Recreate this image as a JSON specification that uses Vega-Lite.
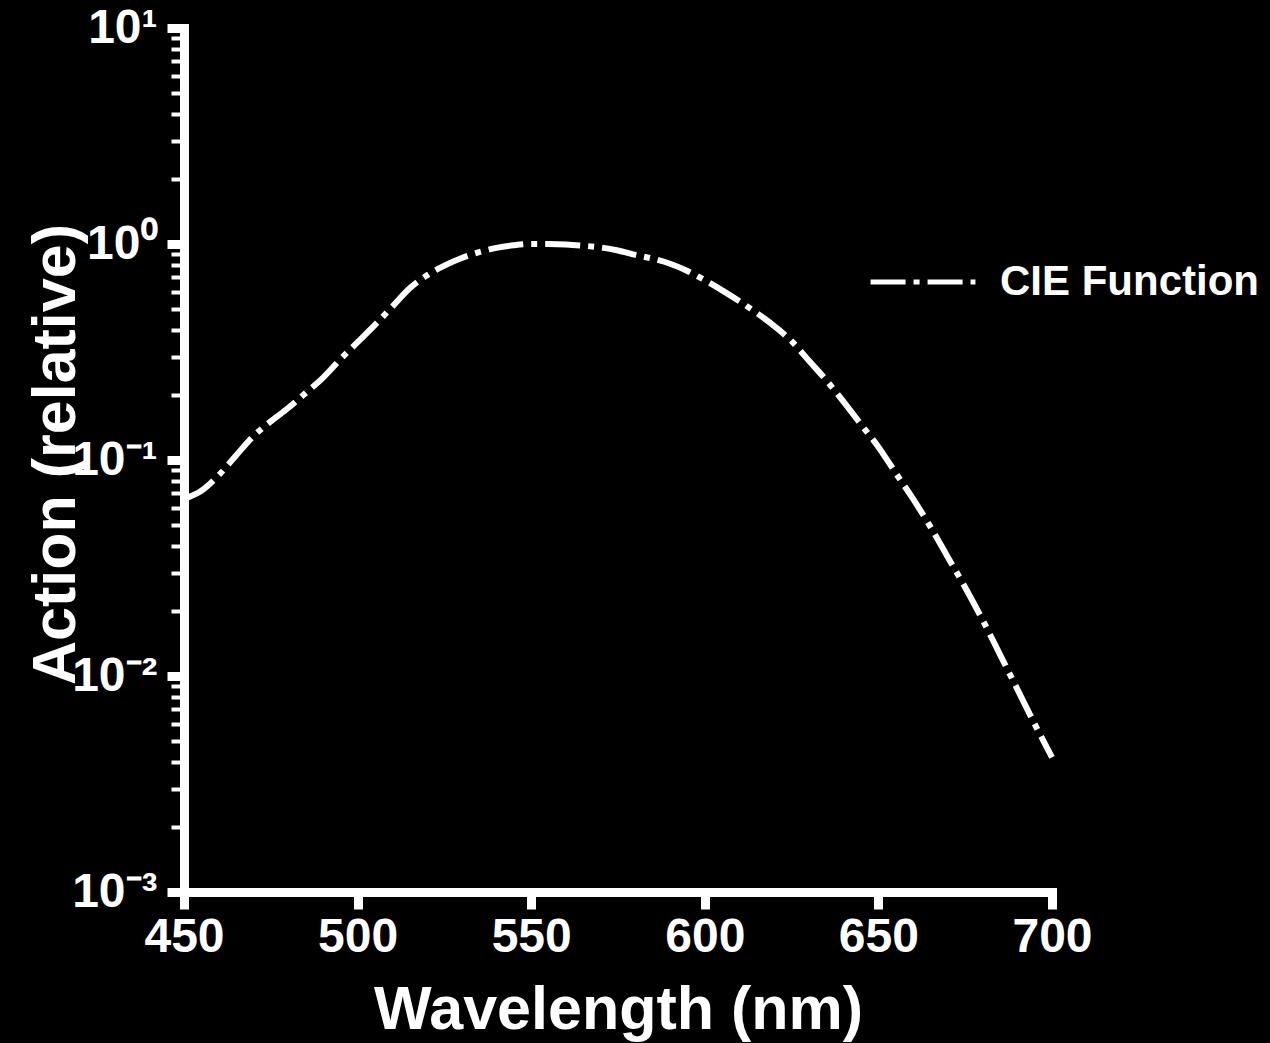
{
  "$schema": "https://vega.github.io/schema/vega-lite/v6.json",
  "autosize": "none",
  "width": 868,
  "height": 864,
  "padding": {"left": 184, "top": 28, "right": 218, "bottom": 151},
  "background": "black",
  "config": {
    "view": {"stroke": null},
    "font": "Liberation Sans",
    "axis": {
      "domainColor": "white",
      "domainWidth": 9,
      "domainCap": "square",
      "tickColor": "white",
      "labelColor": "white",
      "titleColor": "white",
      "labelFont": "Liberation Sans",
      "titleFont": "Liberation Sans",
      "labelFontWeight": "bold",
      "titleFontWeight": "bold",
      "grid": false
    }
  },
  "data": {
    "values": [
      {"wavelength": 450, "action": 0.066, "series": "CIE Function"},
      {"wavelength": 455, "action": 0.072, "series": "CIE Function"},
      {"wavelength": 460, "action": 0.085, "series": "CIE Function"},
      {"wavelength": 465, "action": 0.105, "series": "CIE Function"},
      {"wavelength": 470, "action": 0.129, "series": "CIE Function"},
      {"wavelength": 475, "action": 0.151, "series": "CIE Function"},
      {"wavelength": 480, "action": 0.174, "series": "CIE Function"},
      {"wavelength": 485, "action": 0.204, "series": "CIE Function"},
      {"wavelength": 490, "action": 0.24, "series": "CIE Function"},
      {"wavelength": 495, "action": 0.292, "series": "CIE Function"},
      {"wavelength": 500, "action": 0.351, "series": "CIE Function"},
      {"wavelength": 505, "action": 0.422, "series": "CIE Function"},
      {"wavelength": 510, "action": 0.513, "series": "CIE Function"},
      {"wavelength": 515, "action": 0.624, "series": "CIE Function"},
      {"wavelength": 520, "action": 0.716, "series": "CIE Function"},
      {"wavelength": 525, "action": 0.794, "series": "CIE Function"},
      {"wavelength": 530, "action": 0.861, "series": "CIE Function"},
      {"wavelength": 535, "action": 0.916, "series": "CIE Function"},
      {"wavelength": 540, "action": 0.959, "series": "CIE Function"},
      {"wavelength": 545, "action": 0.986, "series": "CIE Function"},
      {"wavelength": 550, "action": 1.0, "series": "CIE Function"},
      {"wavelength": 555, "action": 1.0, "series": "CIE Function"},
      {"wavelength": 560, "action": 0.995, "series": "CIE Function"},
      {"wavelength": 565, "action": 0.982, "series": "CIE Function"},
      {"wavelength": 570, "action": 0.964, "series": "CIE Function"},
      {"wavelength": 575, "action": 0.933, "series": "CIE Function"},
      {"wavelength": 580, "action": 0.89, "series": "CIE Function"},
      {"wavelength": 585, "action": 0.855, "series": "CIE Function"},
      {"wavelength": 590, "action": 0.81, "series": "CIE Function"},
      {"wavelength": 595, "action": 0.75, "series": "CIE Function"},
      {"wavelength": 600, "action": 0.68, "series": "CIE Function"},
      {"wavelength": 605, "action": 0.61, "series": "CIE Function"},
      {"wavelength": 610, "action": 0.543, "series": "CIE Function"},
      {"wavelength": 615, "action": 0.479, "series": "CIE Function"},
      {"wavelength": 620, "action": 0.417, "series": "CIE Function"},
      {"wavelength": 625, "action": 0.355, "series": "CIE Function"},
      {"wavelength": 630, "action": 0.288, "series": "CIE Function"},
      {"wavelength": 635, "action": 0.234, "series": "CIE Function"},
      {"wavelength": 640, "action": 0.186, "series": "CIE Function"},
      {"wavelength": 645, "action": 0.146, "series": "CIE Function"},
      {"wavelength": 650, "action": 0.115, "series": "CIE Function"},
      {"wavelength": 655, "action": 0.087, "series": "CIE Function"},
      {"wavelength": 660, "action": 0.066, "series": "CIE Function"},
      {"wavelength": 665, "action": 0.049, "series": "CIE Function"},
      {"wavelength": 670, "action": 0.0355, "series": "CIE Function"},
      {"wavelength": 675, "action": 0.0257, "series": "CIE Function"},
      {"wavelength": 680, "action": 0.0182, "series": "CIE Function"},
      {"wavelength": 685, "action": 0.0126, "series": "CIE Function"},
      {"wavelength": 690, "action": 0.0087, "series": "CIE Function"},
      {"wavelength": 695, "action": 0.006, "series": "CIE Function"},
      {"wavelength": 700, "action": 0.0042, "series": "CIE Function"}
    ]
  },
  "mark": {"type": "line", "color": "white", "strokeWidth": 6, "interpolate": "monotone", "strokeCap": "butt"},
  "encoding": {
    "x": {
      "field": "wavelength",
      "type": "quantitative",
      "scale": {"domain": [450, 700], "nice": false, "zero": false},
      "axis": {
        "title": "Wavelength (nm)",
        "values": [450, 500, 550, 600, 650, 700],
        "tickSize": 17,
        "tickWidth": 9,
        "labelFontSize": 48,
        "labelPadding": 4,
        "labelFlush": false,
        "titleFontSize": 61,
        "titleBaseline": "alphabetic",
        "titleY": 136
      }
    },
    "y": {
      "field": "action",
      "type": "quantitative",
      "scale": {"type": "log", "domain": [0.001, 10], "nice": false},
      "axis": {
        "title": "Action (relative)",
        "values": [0.001, 0.002, 0.003, 0.004, 0.005, 0.006, 0.007, 0.008, 0.009,
                   0.01, 0.02, 0.03, 0.04, 0.05, 0.06, 0.07, 0.08, 0.09,
                   0.1, 0.2, 0.3, 0.4, 0.5, 0.6, 0.7, 0.8, 0.9,
                   1, 2, 3, 4, 5, 6, 7, 8, 9, 10],
        "labelExpr": "datum.value == 10 ? '10¹' : datum.value == 1 ? '10⁰' : datum.value == 0.1 ? '10⁻¹' : datum.value == 0.01 ? '10⁻²' : datum.value == 0.001 ? '10⁻³' : ''",
        "tickSize": {"condition": {"test": "datum.value == 10 || datum.value == 1 || datum.value == 0.1 || datum.value == 0.01 || datum.value == 0.001", "value": 17}, "value": 13},
        "tickWidth": {"condition": {"test": "datum.value == 10 || datum.value == 1 || datum.value == 0.1 || datum.value == 0.01 || datum.value == 0.001", "value": 9}, "value": 4},
        "labelFontSize": 48,
        "labelPadding": 10,
        "labelFlush": false,
        "labelBaseline": "middle",
        "titleFontSize": 61,
        "titleBaseline": "alphabetic",
        "titleAngle": -90,
        "titleX": -110,
        "titleY": 426,
        "titleAnchor": "middle"
      }
    },
    "strokeDash": {
      "field": "series",
      "type": "nominal",
      "scale": {"domain": ["CIE Function"], "range": [[35, 8, 6, 8]]},
      "legend": {
        "title": null,
        "orient": "none",
        "legendX": 684,
        "legendY": 199,
        "symbolType": "stroke",
        "symbolSize": 11000,
        "symbolStrokeWidth": 5,
        "symbolStrokeColor": "white",
        "labelColor": "white",
        "labelFont": "Liberation Sans",
        "labelFontWeight": "bold",
        "labelFontSize": 42,
        "labelOffset": 22,
        "labelLimit": 400,
        "padding": 0
      }
    }
  }
}
